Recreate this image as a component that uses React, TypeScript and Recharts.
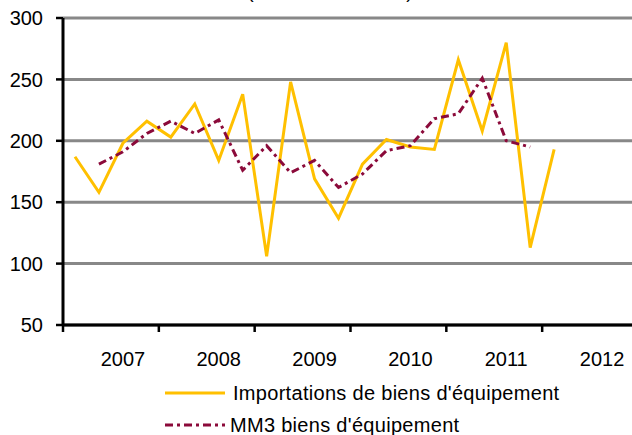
import React from "react";
import { LineChart, Line, XAxis, YAxis, CartesianGrid } from "recharts";

// quarterly series, 2007 T1 .. 2012 T4
const quarters = [
  "2007T1", "2007T2", "2007T3", "2007T4",
  "2008T1", "2008T2", "2008T3", "2008T4",
  "2009T1", "2009T2", "2009T3", "2009T4",
  "2010T1", "2010T2", "2010T3", "2010T4",
  "2011T1", "2011T2", "2011T3", "2011T4",
  "2012T1", "2012T2", "2012T3", "2012T4",
];

// Importations de biens d'équipement (millions d'euros)
const importations = [
  187, 158, 198, 216, 203, 230, 184, 238, 106, 248, 169,
  137, 181, 201, 195, 193, 266, 208, 280, 113, 193,
];

// MM3 biens d'équipement
const mm3 = [
  null, 181, 191, 206, 216, 206, 217, 176, 196, 174,
  184, 162, 173, 192, 196, 218, 222, 251, 200, 195,
];

const years = ["2007", "2008", "2009", "2010", "2011", "2012"];
const yTicks = [50, 100, 150, 200, 250, 300];

const YELLOW = "#FFC000";
const MAROON = "#8B0A3A";
const FONT = "'Liberation Sans', Arial, sans-serif";

const data = quarters.map((q, i) => ({
  q,
  x: i + 0.5,
  imp: importations[i] ?? null,
  mm3: mm3[i] ?? null,
}));

const yearBounds = years.map((_, k) => k * 4).concat([years.length * 4]);
const yearMids = years.map((_, k) => k * 4 + 2.5);

export default function App() {
  return (
    <div
      style={{
        position: "absolute",
        left: 0,
        top: 0,
        width: 632,
        height: 435,
        overflow: "hidden",
        background: "#fff",
        fontFamily: FONT,
      }}
    >
      {/* title, mostly above the visible area as in the original */}
      <div
        style={{
          position: "absolute",
          left: 0,
          width: 660,
          top: -18,
          textAlign: "center",
          fontSize: 18.5,
          lineHeight: "20px",
          color: "#000",
        }}
      >
        (en millions d'euros)
      </div>

      <LineChart
        width={638}
        height={435}
        data={data}
        margin={{ top: 18, right: 0, left: 0, bottom: 62 }}
      >
        <CartesianGrid horizontal vertical={false} stroke="#888" strokeWidth={3} />
        <XAxis
          type="number"
          dataKey="x"
          domain={[0, 24]}
          ticks={yearBounds}
          interval={0}
          height={8}
          tickSize={7}
          tickFormatter={() => ""}
          axisLine={{ stroke: "#000", strokeWidth: 3 }}
          tickLine={{ stroke: "#000", strokeWidth: 2.5 }}
          allowDataOverflow
        />
        <XAxis
          xAxisId="years"
          type="number"
          dataKey="x"
          domain={[0, 24]}
          ticks={yearMids}
          interval={0}
          height={40}
          tickSize={0}
          tickMargin={19}
          axisLine={false}
          tickLine={false}
          tickFormatter={(v: number) => years[Math.floor(v / 4)]}
          tick={{ fill: "#000", fontSize: 20, fontFamily: FONT }}
        />
        <YAxis
          domain={[50, 300]}
          ticks={yTicks}
          interval={0}
          width={63}
          tickSize={7}
          tickMargin={13}
          axisLine={{ stroke: "#000", strokeWidth: 3 }}
          tickLine={{ stroke: "#000", strokeWidth: 2.5 }}
          tick={{ fill: "#000", fontSize: 20, fontFamily: FONT }}
        />
        <Line
          type="linear"
          dataKey="imp"
          stroke={YELLOW}
          strokeWidth={3}
          dot={false}
          activeDot={false}
          isAnimationActive={false}
        />
        <Line
          type="linear"
          dataKey="mm3"
          stroke={MAROON}
          strokeWidth={3}
          strokeDasharray="8 4 3 4"
          dot={false}
          activeDot={false}
          isAnimationActive={false}
        />
      </LineChart>

      {/* legend */}
      <div
        style={{
          position: "absolute",
          left: 165,
          top: 377,
          fontSize: 20,
          color: "#000",
          letterSpacing: 0.3,
        }}
      >
        <div style={{ display: "flex", alignItems: "center", height: 32 }}>
          <svg width={60} height={6} style={{ marginRight: 8 }}>
            <line x1={0} y1={3} x2={60} y2={3} stroke={YELLOW} strokeWidth={3} />
          </svg>
          <span>Importations de biens d'équipement</span>
        </div>
        <div style={{ display: "flex", alignItems: "center", height: 32 }}>
          <svg width={60} height={6} style={{ marginRight: 5 }}>
            <line
              x1={0}
              y1={3}
              x2={60}
              y2={3}
              stroke={MAROON}
              strokeWidth={3}
              strokeDasharray="8 4 3 4"
            />
          </svg>
          <span>MM3 biens d'équipement</span>
        </div>
      </div>
    </div>
  );
}
